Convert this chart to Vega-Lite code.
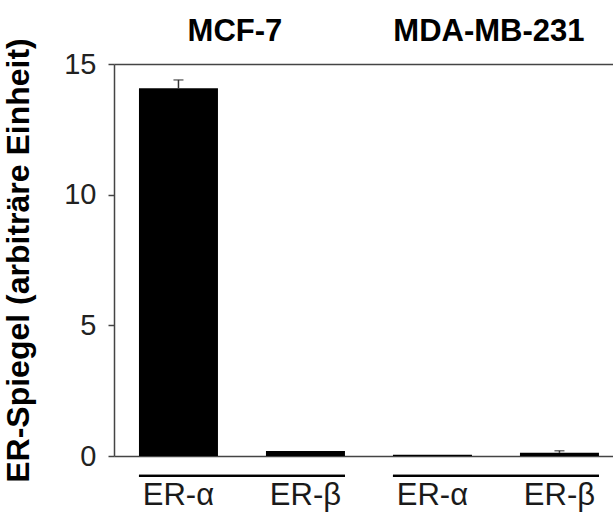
{
  "$schema": "https://vega.github.io/schema/vega-lite/v6.json",
  "width": 499,
  "height": 392,
  "autosize": {"type": "none"},
  "padding": {"left": 114, "top": 64, "right": 0, "bottom": 59},
  "background": "white",
  "config": {
    "view": {"stroke": null},
    "font": "Liberation Sans",
    "axis": {"grid": false}
  },
  "data": {
    "values": [
      {"group": "MCF-7", "receptor": "ER-α", "value": 14.07, "hi": 14.39},
      {"group": "MCF-7", "receptor": "ER-β", "value": 0.19, "hi": null},
      {"group": "MDA-MB-231", "receptor": "ER-α", "value": 0.05, "hi": null},
      {"group": "MDA-MB-231", "receptor": "ER-β", "value": 0.12, "hi": 0.2}
    ]
  },
  "encoding": {
    "x": {
      "field": "group",
      "type": "nominal",
      "sort": ["MCF-7", "MDA-MB-231"],
      "axis": null,
      "scale": {"paddingInner": 0.189, "paddingOuter": 0.0768, "align": 0.64}
    },
    "xOffset": {
      "field": "receptor",
      "type": "nominal",
      "sort": ["ER-α", "ER-β"],
      "scale": {"paddingInner": 0.378, "paddingOuter": 0}
    }
  },
  "layer": [
    {
      "mark": {"type": "bar", "color": "#000000"},
      "encoding": {
        "x": {
          "field": "group",
          "type": "nominal",
          "sort": ["MCF-7", "MDA-MB-231"],
          "axis": {"orient": "bottom", "labels": false, "ticks": false, "domain": true, "domainColor": "#444444", "domainWidth": 1.5, "title": null}
        },
        "y": {
          "field": "value",
          "type": "quantitative",
          "scale": {"domain": [0, 15], "nice": false},
          "axis": {
            "values": [0, 5, 10, 15],
            "title": "ER-Spiegel (arbiträre Einheit)",
            "titleFontSize": 32,
            "titleFontWeight": "bold",
            "titleColor": "#000000",
            "titlePadding": 28,
            "labelFontSize": 29,
            "labelColor": "#222222",
            "labelPadding": 12,
            "tickSize": 6,
            "tickColor": "#444444",
            "tickWidth": 1.5,
            "domainColor": "#444444",
            "domainWidth": 1.5
          }
        }
      }
    },
    {
      "mark": {"type": "rule", "color": "#333333", "strokeWidth": 1.5},
      "encoding": {
        "y": {"field": "value", "type": "quantitative"},
        "y2": {"field": "hi"}
      }
    },
    {
      "mark": {"type": "tick", "color": "#333333", "thickness": 1.5, "size": 10},
      "encoding": {
        "y": {"field": "hi", "type": "quantitative"}
      }
    },
    {
      "mark": {"type": "text", "fontSize": 31, "color": "#1a1a1a", "baseline": "alphabetic", "align": "center"},
      "encoding": {
        "y": {"datum": -1.87},
        "text": {"field": "receptor", "type": "nominal"}
      }
    },
    {
      "mark": {"type": "bar", "color": "#000000"},
      "encoding": {
        "x": {
          "field": "group",
          "type": "nominal",
          "sort": ["MCF-7", "MDA-MB-231"],
          "axis": {
            "orient": "top",
            "title": null,
            "ticks": false,
            "tickSize": 0,
            "domain": true,
            "domainColor": "#444444",
            "domainWidth": 1.5,
            "labelFontSize": 31,
            "labelFontWeight": "bold",
            "labelColor": "#000000",
            "labelBaseline": "alphabetic",
            "labelPadding": 24,
            "labelOffset": -7,
            "labelAngle": 0,
            "labelLimit": 0
          }
        },
        "xOffset": null,
        "y": {"datum": -0.72},
        "y2": {"datum": -0.8}
      }
    }
  ],
  "resolve": {"axis": {"x": "independent"}}
}
